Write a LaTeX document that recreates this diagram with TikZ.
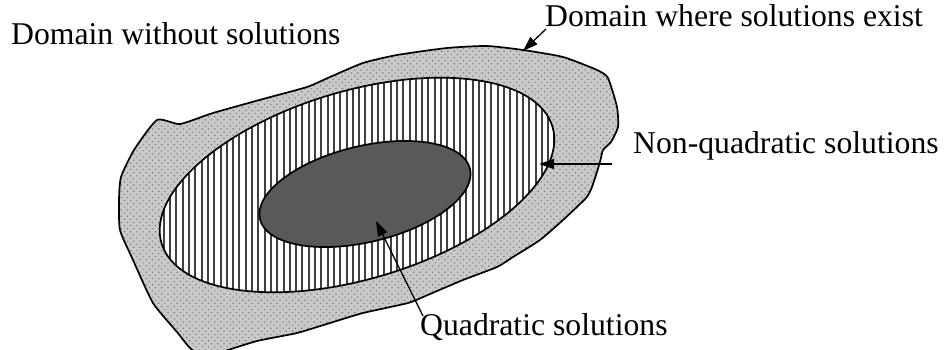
\documentclass[tikz,border=0pt]{standalone}
\usepackage{fontspec}
\setmainfont{Liberation Serif}
\usetikzlibrary{patterns.meta,arrows.meta}
\tikzset{
  outline/.style={draw=black,line width=1.7pt,line join=round},
  lbl/.style={inner sep=0pt,anchor=base west,font=\fontsize{31.7}{38}\selectfont},
  arr/.style={line width=1.3pt,-{Triangle[length=15pt,width=10pt]}},
}
\def\blobpath{plot[smooth cycle,tension=0.35] coordinates {
  (157,120) (180,124) (213,113) (263,99) (307,87) (330,77) (363,63) (397,55)
  (447,48) (487,46) (523,50) (563,57) (597,70) (608,78) (617,107) (618,127)
  (611,142) (603,150) (600,162) (592,187) (586,198) (563,220) (540,240)
  (513,257) (497,267) (463,280) (430,294) (408,303) (363,313) (330,323)
  (297,333) (257,341) (222,352) (205,358) (190,348) (177,332) (153,303)
  (133,260) (120,230) (119,200) (121,177) (134,150)}}
\begin{document}
\begin{tikzpicture}[x=1pt,y=-1pt]
\useasboundingbox (0,0) rectangle (946,350);
\begin{scope}
\clip (0,0) rectangle (946,350);
% outer domain
\path[fill=black!21] \blobpath;
\path[pattern={Dots[distance=4.4pt,radius=0.85pt,angle=45]},pattern color=black!52] \blobpath;
\path[outline] \blobpath;
\end{scope}
% non-quadratic solutions
\path[fill=white,rotate around={16.6:(357,185)}] (357,185) ellipse [x radius=204,y radius=94];
\path[pattern={Lines[distance=6.3pt,angle=90,line width=2pt]},pattern color=black!75,rotate around={16.6:(357,185)}] (357,185) ellipse [x radius=204,y radius=94];
\path[outline,rotate around={16.6:(357,185)}] (357,185) ellipse [x radius=204,y radius=94];
% quadratic solutions
\path[outline,fill=black!65,rotate around={13.5:(365,194)}] (365,194) ellipse [x radius=108,y radius=48];
% labels
\node[lbl] (without) at (11,45) {Domain without solutions};
\node[lbl] (exist) at (545,27) {Domain where solutions exist};
\node[lbl] (nonq) at (633,154) {Non-quadratic solutions};
\node[lbl] (quad) at (420,335) {Quadratic solutions};
% connectors
\coordinate (e1) at (546,29);
\coordinate (t1) at (523,51);
\coordinate (e2) at (612,164);
\coordinate (t2) at (539,164);
\coordinate (e3) at (423,316);
\coordinate (t3) at (376,221);
\draw[arr] (e1) -- (t1);
\draw[arr] (e2) -- (t2);
\draw[arr] (e3) -- (t3);
\end{tikzpicture}
\end{document}
